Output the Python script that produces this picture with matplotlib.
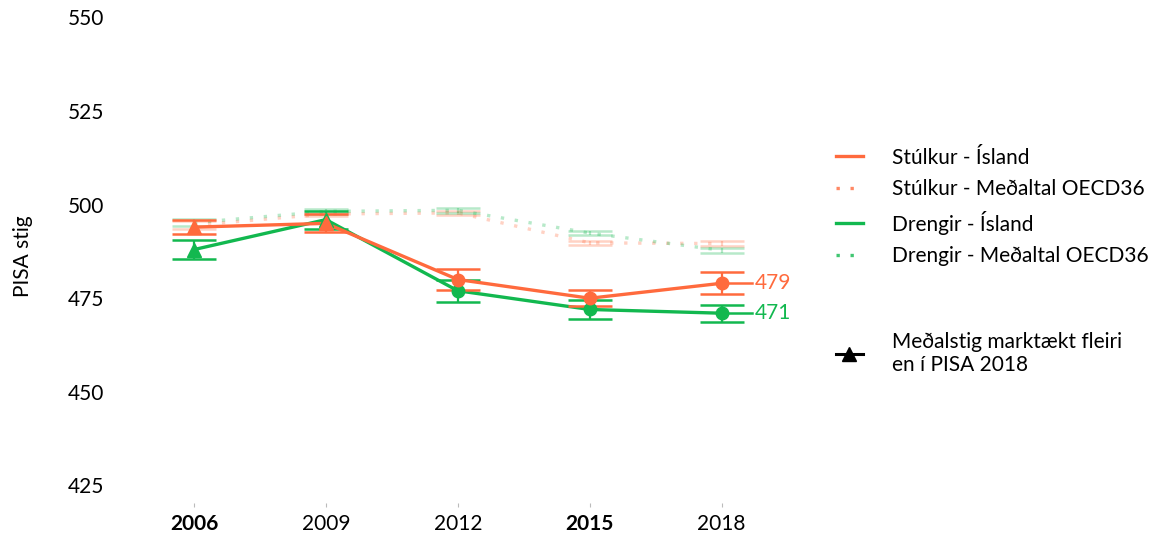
import numpy as np
import matplotlib.pyplot as plt
from matplotlib.lines import Line2D

plt.rcParams['font.family'] = ['Lato', 'DejaVu Sans']

years = [2006, 2009, 2012, 2015, 2018]
bold_years = [2006, 2015]

# Ísland, meðaltal og staðalvilla (hálf breidd villustiku)
girls_is = [494, 495, 480, 475, 479]
girls_is_err = [1.9, 2.4, 2.8, 2.1, 2.9]
boys_is = [488, 496, 477, 472, 471]
boys_is_err = [2.6, 2.4, 3.0, 2.5, 2.3]

# OECD36 meðaltal
girls_oecd = [494.5, 497.5, 497.8, 489.8, 489.6]
girls_oecd_err = [1.0, 0.6, 0.6, 0.6, 0.6]
boys_oecd = [495.2, 498.2, 498.5, 492.4, 487.8]
boys_oecd_err = [1.0, 0.6, 0.6, 0.6, 0.6]

# marktækt hærra en 2018 -> þríhyrningur
signif = [True, True, False, False, False]

orange = '#ff6a3d'
green = '#12b84f'
fs = 15

fig = plt.figure(figsize=(11.61, 5.37), dpi=100)
ax = fig.add_axes([150 / 1161, 1 - 503 / 537, 642 / 1161, 493 / 537])

def draw_series(vals, errs, color, alpha, ls, markers=True):
    ax.plot(years, vals, color=color, lw=2.4, ls=ls, alpha=alpha,
            solid_capstyle='round', zorder=3)
    ax.errorbar(years, vals, yerr=errs, fmt='none', ecolor=color,
                elinewidth=1.6, capsize=16, capthick=1.8, alpha=alpha,
                zorder=3)
    if markers:
        for x, v, s in zip(years, vals, signif):
            ax.plot(x, v, marker='^' if s else 'o', ms=10 if s else 9,
                    color=color, alpha=alpha, zorder=4)

draw_series(girls_oecd, girls_oecd_err, orange, 0.3, (0, (1, 3.2)), markers=False)
draw_series(boys_oecd, boys_oecd_err, green, 0.3, (0, (1, 3.2)), markers=False)
draw_series(boys_is, boys_is_err, green, 1.0, '-')
draw_series(girls_is, girls_is_err, orange, 1.0, '-')

# gildi 2018 við enda línanna
for v, c in [(girls_is[-1], orange), (boys_is[-1], green)]:
    ax.plot([years[-1], years[-1] + 0.7], [v, v], color=c, lw=1.8, zorder=2)
    ax.text(years[-1] + 0.75, v, f'{v}', color=c, fontsize=fs,
            va='center', ha='left')

ax.set_xlim(2005, 2019.6)
ax.set_ylim(420.3, 552)
ax.set_yticks([425, 450, 475, 500, 525, 550])
ax.set_xticks(years)
ax.set_xticklabels([str(y) for y in years])
for lab, y in zip(ax.get_xticklabels(), years):
    if y in bold_years:
        lab.set_fontweight('bold')

for s in ax.spines.values():
    s.set_visible(False)
ax.tick_params(axis='y', length=0, pad=33, labelsize=fs)
ax.tick_params(axis='x', length=3, width=0.8, color='#bbbbbb', pad=5,
               labelsize=fs)
ax.set_ylabel('PISA stig', fontsize=fs)
ax.yaxis.set_label_coords(-117 / 642, 0.5)

handles = [
    Line2D([], [], color=orange, lw=2.4),
    Line2D([], [], color=orange, lw=2.4, ls=(0, (1, 3.2)), alpha=0.8),
    Line2D([], [], color=green, lw=2.4),
    Line2D([], [], color=green, lw=2.4, ls=(0, (1, 3.2)), alpha=0.8),
]
labels = ['Stúlkur - Ísland', 'Stúlkur - Meðaltal OECD36',
          'Drengir - Ísland', 'Drengir - Meðaltal OECD36']
fig.legend(handles, labels, loc='upper left',
           bbox_to_anchor=(817 / 1161, 1 - 129 / 537), frameon=False,
           fontsize=fs, handlelength=1.3, handletextpad=1.4,
           labelspacing=0.55)

sig_handle = Line2D([], [], color='black', lw=2.2, marker='^', ms=10)
fig.legend([sig_handle], ['Meðalstig marktækt fleiri\nen í PISA 2018'],
           loc='upper left', bbox_to_anchor=(817 / 1161, 1 - 313 / 537),
           frameon=False, fontsize=fs, handlelength=1.3, handletextpad=1.4)

fig.savefig('out.png', dpi=100)
